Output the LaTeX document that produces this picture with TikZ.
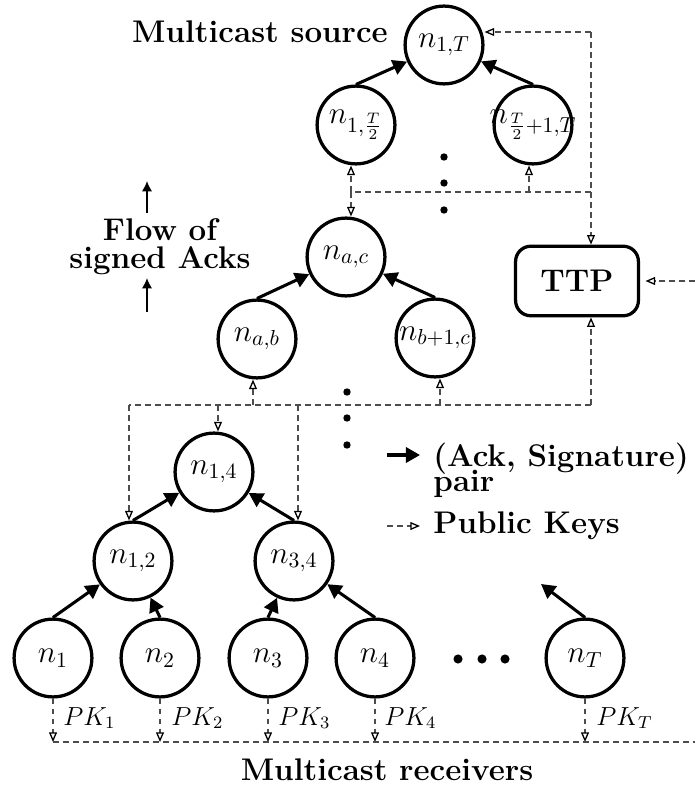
\documentclass[tikz,border=0pt]{standalone}
\usetikzlibrary{arrows.meta}
% node label that never widens its circle
\newcommand\nlab[1]{\makebox[0pt]{$#1$}}
\begin{document}
\begin{tikzpicture}[x=0.46pt,y=-0.46pt,
  nd/.style={circle,draw,line width=1.5pt,minimum size=35.8pt,inner sep=0pt,font=\Large},
  ack/.style={line width=1.4pt,-{Triangle[length=6.5pt,width=7pt]}},
  flowarrow/.style={line width=0.8pt,-{Latex[length=4.8pt,width=4.8pt]}},
  pk/.style={black!70,line width=0.6pt,dash pattern=on 2.6pt off 2pt},
  pka/.style={pk,-{Triangle[open,length=4.4pt,width=3.6pt,black,line width=0.6pt]}},
  lbl/.style={font=\Large\bfseries},
  pklbl/.style={font=\large,anchor=base west,inner sep=0pt},
  dot/.style={fill=black}]
\useasboundingbox (0,0) rectangle (695,786);

% ---- tree of signers ----
\node[nd] (nT1) at (444,45)  {\nlab{n_{1,T}}};
\node[nd] (nL)  at (356,125) {\nlab{n_{1,\frac{T}{2}}}};
\node[nd] (nR)  at (533,125) {\nlab{n_{\frac{T}{2}+1,T}}};
\node[nd] (nac) at (346,257) {\nlab{n_{a,c}}};
\node[nd] (nab) at (257,339) {\nlab{n_{a,b}}};
\node[nd] (nbc) at (435,338) {\nlab{n_{b+1,c}}};
\node[nd] (n14) at (214,472) {\nlab{n_{1,4}}};
\node[nd] (n12) at (133,561) {\nlab{n_{1,2}}};
\node[nd] (n34) at (294,561) {\nlab{n_{3,4}}};
\node[nd] (n1)  at (53,658)  {\nlab{n_1}};
\node[nd] (n2)  at (160,658) {\nlab{n_2}};
\node[nd] (n3)  at (268,658) {\nlab{n_3}};
\node[nd] (n4)  at (375,658) {\nlab{n_4}};
\node[nd] (nT)  at (585,658) {\nlab{n_T}};

\node[draw,line width=1.5pt,rounded corners=7pt,minimum width=56.5pt,
      minimum height=32pt,inner sep=0pt,font=\Large\bfseries] (ttp) at (577,281) {TTP};

% ---- (Ack, Signature) flow ----
\coordinate (tail) at (541,584);
\draw[ack] (nL.north)  -- (nT1);
\draw[ack] (nR.north)  -- (nT1);
\draw[ack] (nab.north) -- (nac);
\draw[ack] (nbc.north) -- (nac);
\draw[ack] (n12.north) -- (n14);
\draw[ack] (n34.north) -- (n14);
\draw[ack] (n1.north)  -- (n12);
\draw[ack] (n2.north)  -- (n12);
\draw[ack] (n3.north)  -- (n34);
\draw[ack] (n4.north)  -- (n34);
\draw[ack] (nT.north)  -- (tail);

% ---- elided levels ----
\foreach \y in {157,183,210} \fill[dot] (444,\y) circle (1.7pt);
\foreach \y in {392,418,445} \fill[dot] (347,\y) circle (1.7pt);
\foreach \x in {458,482,505} \fill[dot] (\x,659) circle (2.1pt);

% ---- public key distribution ----
\coordinate (tA) at (591,32);
\coordinate (tB) at (591,192);
\coordinate (tC) at (351,192);
\coordinate (tD) at (529,192);
\draw[pka] (tA) -- (tA -| nT1.east);
\draw[pka] (tA) -- (tA |- ttp.north);
\draw[pk]  (tB) -- (tC);
\draw[pka] (tC) -- (tC |- nL.south);
\draw[pka] (tD) -- (tD |- nR.south);
\draw[pka] (tC) -- (tC |- nac.north);

\coordinate (mA)  at (591,405);
\coordinate (mB)  at (129,405);
\coordinate (mab) at (253,405);
\coordinate (mbc) at (440,405);
\coordinate (m14) at (218,405);
\coordinate (m34) at (298,405);
\draw[pk]  (mA) -- (mB);
\draw[pka] (mA) -- (mA |- ttp.south);
\draw[pka] (mab) -- (mab |- nab.south);
\draw[pka] (mbc) -- (mbc |- nbc.south);
\draw[pka] (m14) -- (m14 |- n14.north);
\draw[pka] (mB)  -- (mB |- n12.north);
\draw[pka] (m34) -- (m34 |- n34.north);

\coordinate (ttpin) at (695,281);
\draw[pka,shorten >=2.5pt] (ttpin) -- (ttpin -| ttp.east);

\coordinate (bus) at (695,742);
\foreach \n in {n1,n2,n3,n4,nT} \draw[pka] (\n.south) -- (\n.south |- bus);
\draw[pk] (n1.south |- bus) -- (bus);

\node[pklbl] (pk1) at (63,725)  {$PK_1$};
\node[pklbl] (pk2) at (171,725) {$PK_2$};
\node[pklbl] (pk3) at (278,725) {$PK_3$};
\node[pklbl] (pk4) at (384,725) {$PK_4$};
\node[pklbl] (pkT) at (596,725) {$PK_T$};

% ---- captions ----
\node[lbl] (src) at (260,32) {Multicast source};
\node[lbl] (rcv) at (387,770) {Multicast receivers};
\node[lbl,align=center] (flow) at (160,247) {Flow of\\[-5pt]signed Acks};
\coordinate (fa1) at (147,213); \coordinate (fa2) at (147,181);
\coordinate (fb1) at (147,312); \coordinate (fb2) at (147,278);
\draw[flowarrow] (fa1) -- (fa2);
\draw[flowarrow] (fb1) -- (fb2);

% ---- legend ----
\coordinate (la1) at (387,455); \coordinate (la2) at (420,455);
\coordinate (lb1) at (387,526); \coordinate (lb2) at (420,526);
\draw[ack] (la1) -- (la2);
\draw[pka] (lb1) -- (lb2);
\node[lbl,anchor=north west,align=left,inner sep=0pt] (legack) at (433,443) {(Ack, Signature)\\[-6.5pt]pair};
\node[lbl,anchor=base west,inner sep=0pt] (legpk) at (433,533) {Public Keys};
\end{tikzpicture}
\end{document}
